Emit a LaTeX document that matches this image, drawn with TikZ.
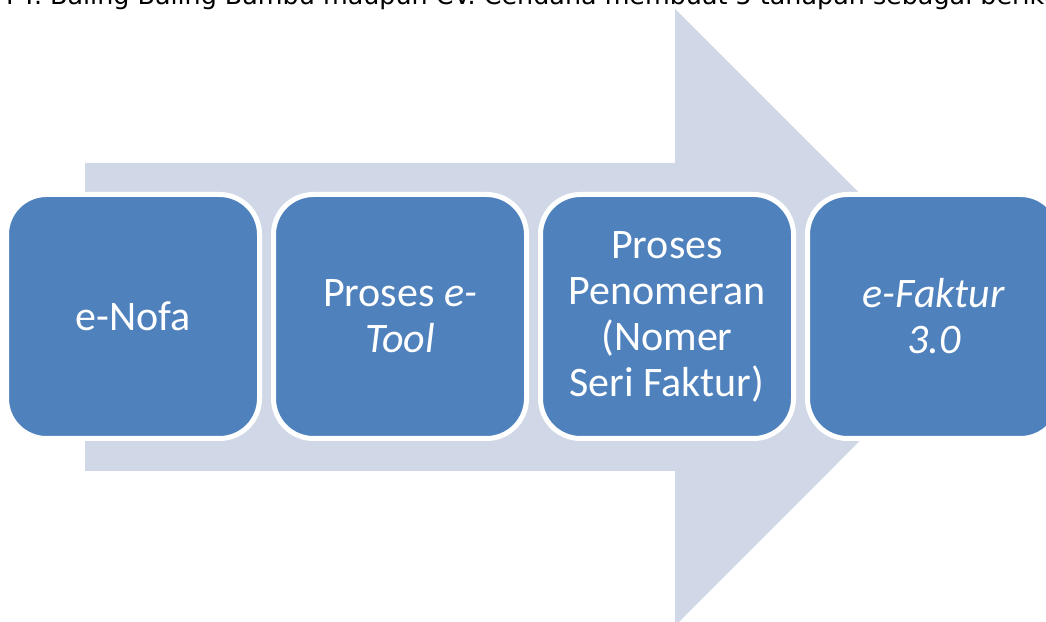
\documentclass[tikz,border=0pt]{standalone}
\usepackage{fontspec}
\setmainfont{Carlito}
\newfontfamily\captionfont{DejaVu Sans}
\usetikzlibrary{positioning}
\definecolor{stepblue}{HTML}{4F81BD}
\definecolor{flowgrey}{HTML}{D0D8E8}

\begin{document}
\begin{tikzpicture}[x=1pt, y=1pt, node distance=14pt,
                    stepbox/.style={draw=white, line width=5pt, fill=stepblue, rounded corners=40pt,
                                    minimum width=253pt, minimum height=244pt, outer sep=0pt, inner sep=0pt,
                                    align=center, text=white, font=\fontsize{42}{46}\selectfont},
                    caption/.style={anchor=base west, inner sep=0pt, font=\captionfont\fontsize{25.4}{30}\selectfont}]
  \useasboundingbox (0,0) rectangle (1046,621);
  \clip (0,0) rectangle (1046,621);
  % big arrow behind the steps
  \fill[flowgrey] (85,458) -- (675,458) -- (675,612) -- (983.5,304) -- (675,-5) -- (675,150) -- (85,150) -- cycle;
  \node (enofa)[stepbox] at (133,304.5) {e-Nofa};
  \node (etool)[stepbox, right=of enofa] {Proses \textit{e-}\\\textit{Tool}};
  \node (penomeran)[stepbox, right=of etool] {Proses\\Penomeran\\(Nomer\\Seri Faktur)};
  \node (efaktur)[stepbox, right=of penomeran] {\textit{e-Faktur}\\\textit{3.0}};
  \node (intro)[caption] at (6,616) {PT. Baling Baling Bambu maupun CV. Cendana membuat 5 tahapan sebagai berikut:};
\end{tikzpicture}
\end{document}
